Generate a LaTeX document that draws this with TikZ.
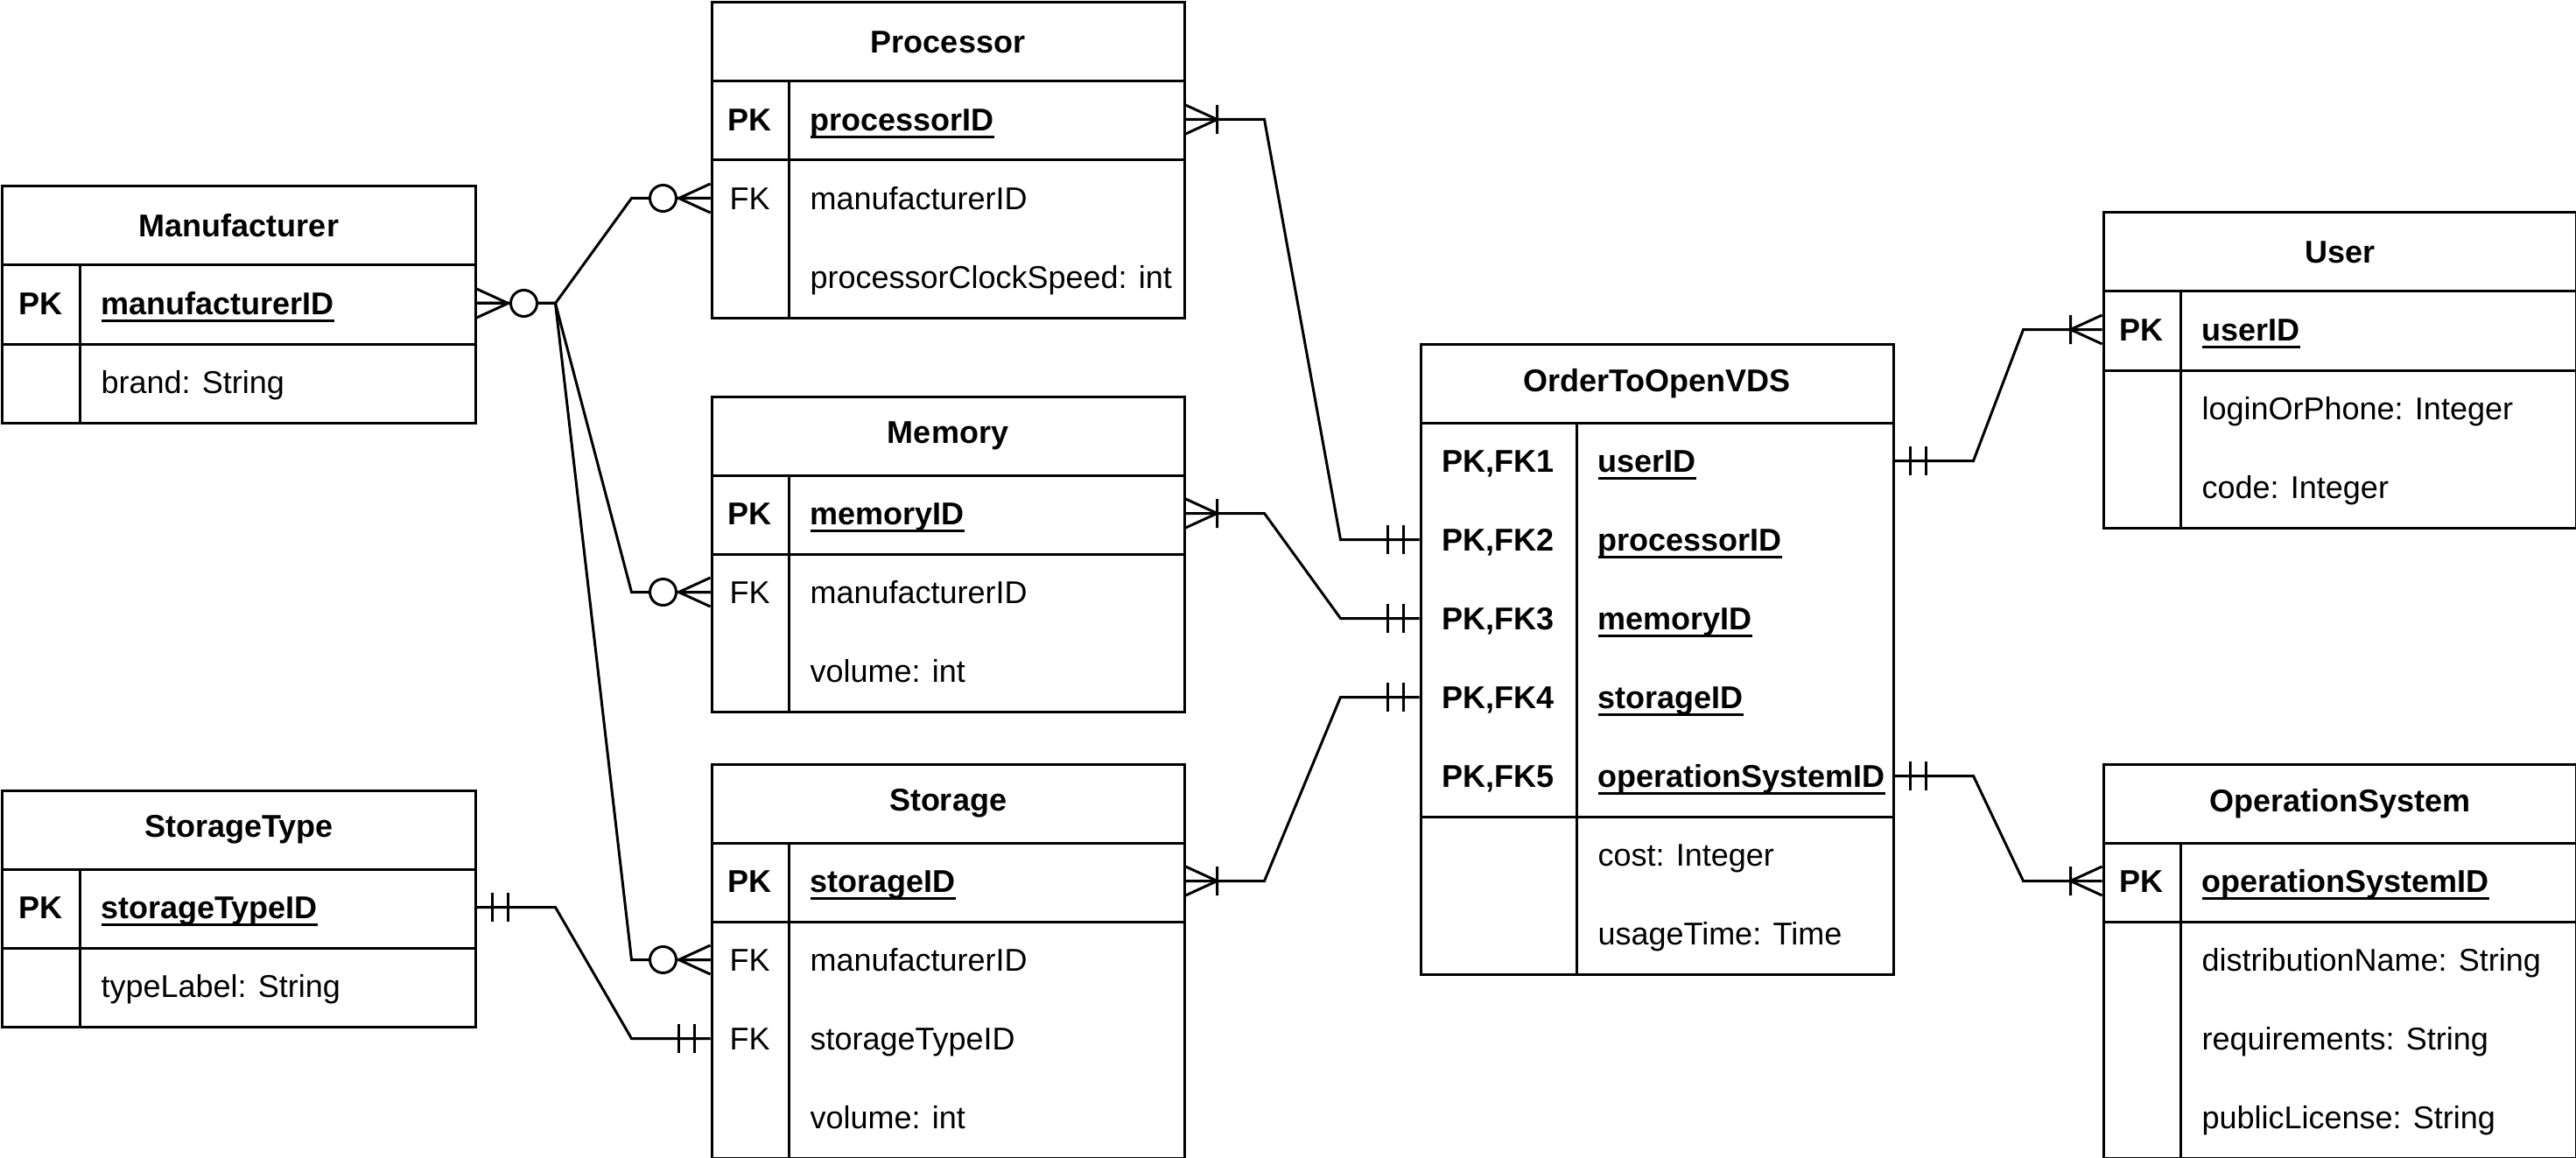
\documentclass[tikz,border=0pt]{standalone}
\usepackage{fontspec}
\setmainfont{Liberation Sans}
\newsavebox{\pkbox}
\newcommand{\pkul}[1]{\sbox{\pkbox}{#1}\rlap{\rule[-2.8pt]{\wd\pkbox}{1pt}}\usebox{\pkbox}}

\begin{document}
\begin{tikzpicture}
			[
				x=1pt, y=-1pt,
				line width=1pt,
				font=\fontsize{12}{14}\selectfont,
				box/.style={draw, anchor=north west, minimum width=180, inner sep=0},
				head/.style={box, minimum height=30, font=\fontsize{12}{14}\selectfont\bfseries},
				txt/.style={inner sep=0, text height=8.6pt, text depth=0pt},
				key/.style={txt, font=\fontsize{12}{14}\selectfont\bfseries},
				fkey/.style={txt},
				pk/.style={txt, anchor=west, font=\fontsize{12}{14}\selectfont\bfseries},
				attr/.style={txt, anchor=west},
				rel/.style={to path={-- ++(30,0) -- ([xshift=-30pt]\tikztotarget) -- (\tikztotarget)}},
				zmany/.pic={\draw (0,-5.5) -- (12,0) -- (0,5.5) (0,0) -- (12,0);
					\draw[fill=white] (18,0) circle (5pt);},
				omany/.pic={\draw (0,-5.5) -- (12,0) -- (0,5.5) (12,-5.5) -- (12,5.5);},
				mone/.pic={\draw (6,-5.5) -- (6,5.5) (12,-5.5) -- (12,5.5);}
			]

			\useasboundingbox (-0.5,-0.5) rectangle (980.5,440.5);

			% Manufacturer
			\node[head] (man) at (0,70) {Manufacturer};
			\node[box, minimum height=30] (manK) at (0,100) {};
			\node[box, minimum height=30] (manA) at (0,130) {};
			\draw ([xshift=30pt]manK.north west) -- ([xshift=30pt]manA.south west);
			\node[key] (manPKl) at (15,115) {PK};
			\node[pk] (manPK) at (37.5,115) {\pkul{manufacturerID}};
			\node[attr] (manBrand) at (37.5,145) {brand: String};

			% Processor
			\node[head] (proc) at (270,0) {Processor};
			\node[box, minimum height=30] (procK) at (270,30) {};
			\node[box, minimum height=60] (procA) at (270,60) {};
			\draw ([xshift=30pt]procK.north west) -- ([xshift=30pt]procA.south west);
			\node[key] (procPKl) at (285,45) {PK};
			\node[pk] (procPK) at (307.5,45) {\pkul{processorID}};
			\node[fkey] (procFKl) at (285,75) {FK};
			\node[attr] (procMan) at (307.5,75) {manufacturerID};
			\node[attr] (procSpeed) at (307.5,105) {processorClockSpeed: int};

			% Memory
			\node[head] (mem) at (270,150) {Memory};
			\node[box, minimum height=30] (memK) at (270,180) {};
			\node[box, minimum height=60] (memA) at (270,210) {};
			\draw ([xshift=30pt]memK.north west) -- ([xshift=30pt]memA.south west);
			\node[key] (memPKl) at (285,195) {PK};
			\node[pk] (memPK) at (307.5,195) {\pkul{memoryID}};
			\node[fkey] (memFKl) at (285,225) {FK};
			\node[attr] (memMan) at (307.5,225) {manufacturerID};
			\node[attr] (memVol) at (307.5,255) {volume: int};

			% Storage
			\node[head] (sto) at (270,290) {Storage};
			\node[box, minimum height=30] (stoK) at (270,320) {};
			\node[box, minimum height=90] (stoA) at (270,350) {};
			\draw ([xshift=30pt]stoK.north west) -- ([xshift=30pt]stoA.south west);
			\node[key] (stoPKl) at (285,335) {PK};
			\node[pk] (stoPK) at (307.5,335) {\pkul{storageID}};
			\node[fkey] (stoFK1l) at (285,365) {FK};
			\node[attr] (stoMan) at (307.5,365) {manufacturerID};
			\node[fkey] (stoFK2l) at (285,395) {FK};
			\node[attr] (stoType) at (307.5,395) {storageTypeID};
			\node[attr] (stoVol) at (307.5,425) {volume: int};

			% StorageType
			\node[head] (stype) at (0,300) {StorageType};
			\node[box, minimum height=30] (stypeK) at (0,330) {};
			\node[box, minimum height=30] (stypeA) at (0,360) {};
			\draw ([xshift=30pt]stypeK.north west) -- ([xshift=30pt]stypeA.south west);
			\node[key] (stypePKl) at (15,345) {PK};
			\node[pk] (stypePK) at (37.5,345) {\pkul{storageTypeID}};
			\node[attr] (stypeLabel) at (37.5,375) {typeLabel: String};

			% OrderToOpenVDS
			\node[head] (ord) at (540,130) {OrderToOpenVDS};
			\node[box, minimum height=150] (ordK) at (540,160) {};
			\node[box, minimum height=60] (ordA) at (540,310) {};
			\draw ([xshift=60pt]ordK.north west) -- ([xshift=60pt]ordA.south west);
			\node[key] (ordFK1l) at (570,175) {PK,FK1};
			\node[pk] (ordUser) at (607.5,175) {\pkul{userID}};
			\node[key] (ordFK2l) at (570,205) {PK,FK2};
			\node[pk] (ordProc) at (607.5,205) {\pkul{processorID}};
			\node[key] (ordFK3l) at (570,235) {PK,FK3};
			\node[pk] (ordMem) at (607.5,235) {\pkul{memoryID}};
			\node[key] (ordFK4l) at (570,265) {PK,FK4};
			\node[pk] (ordSto) at (607.5,265) {\pkul{storageID}};
			\node[key] (ordFK5l) at (570,295) {PK,FK5};
			\node[pk] (ordOS) at (607.5,295) {\pkul{operationSystemID}};
			\node[attr] (ordCost) at (607.5,325) {cost: Integer};
			\node[attr] (ordTime) at (607.5,355) {usageTime: Time};

			% User
			\node[head] (usr) at (800,80) {User};
			\node[box, minimum height=30] (usrK) at (800,110) {};
			\node[box, minimum height=60] (usrA) at (800,140) {};
			\draw ([xshift=30pt]usrK.north west) -- ([xshift=30pt]usrA.south west);
			\node[key] (usrPKl) at (815,125) {PK};
			\node[pk] (usrPK) at (837.5,125) {\pkul{userID}};
			\node[attr] (usrLogin) at (837.5,155) {loginOrPhone: Integer};
			\node[attr] (usrCode) at (837.5,185) {code: Integer};

			% OperationSystem
			\node[head] (os) at (800,290) {OperationSystem};
			\node[box, minimum height=30] (osK) at (800,320) {};
			\node[box, minimum height=90] (osA) at (800,350) {};
			\draw ([xshift=30pt]osK.north west) -- ([xshift=30pt]osA.south west);
			\node[key] (osPKl) at (815,335) {PK};
			\node[pk] (osPK) at (837.5,335) {\pkul{operationSystemID}};
			\node[attr] (osDist) at (837.5,365) {distributionName: String};
			\node[attr] (osReq) at (837.5,395) {requirements: String};
			\node[attr] (osLic) at (837.5,425) {publicLicense: String};

			% relations
			\foreach \tbl/\row in {procA/procMan,memA/memMan,stoA/stoMan}
			\draw (manK.east |- manPK) to[rel] (\tbl.west |- \row);

			\draw (stypeK.east |- stypePK) to[rel] (stoA.west |- stoType);

			\foreach \tbl/\row/\fk in {procK/procPK/ordProc,memK/memPK/ordMem,stoK/stoPK/ordSto}
			\draw (\tbl.east |- \row) to[rel] (ordK.west |- \fk);

			\draw (ordK.east |- ordUser) to[rel] (usrK.west |- usrPK);
			\draw (ordK.east |- ordOS) to[rel] (osK.west |- osPK);

			% cardinality marks
			\pic at (manK.east |- manPK) {zmany};
			\foreach \tbl/\row in {procA/procMan,memA/memMan,stoA/stoMan}
			\pic[xscale=-1] at (\tbl.west |- \row) {zmany};

			\pic at (stypeK.east |- stypePK) {mone};
			\pic[xscale=-1] at (stoA.west |- stoType) {mone};

			\foreach \tbl/\row/\fk in {procK/procPK/ordProc,memK/memPK/ordMem,stoK/stoPK/ordSto}
			{
				\pic at (\tbl.east |- \row) {omany};
				\pic[xscale=-1] at (ordK.west |- \fk) {mone};
			}

			\pic at (ordK.east |- ordUser) {mone};
			\pic at (ordK.east |- ordOS) {mone};
			\pic[xscale=-1] at (usrK.west |- usrPK) {omany};
			\pic[xscale=-1] at (osK.west |- osPK) {omany};

		\end{tikzpicture}
\end{document}
